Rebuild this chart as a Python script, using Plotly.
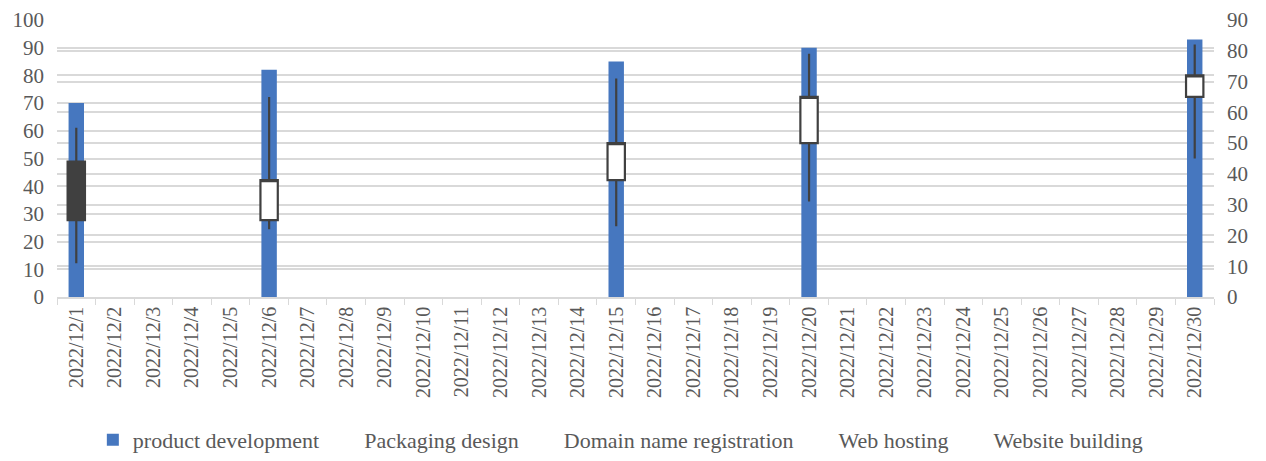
import plotly.graph_objects as go

dates = ["2022/12/1", "2022/12/2", "2022/12/3", "2022/12/4", "2022/12/5",
         "2022/12/6", "2022/12/7", "2022/12/8", "2022/12/9", "2022/12/10",
         "2022/12/11", "2022/12/12", "2022/12/13", "2022/12/14", "2022/12/15",
         "2022/12/16", "2022/12/17", "2022/12/18", "2022/12/19", "2022/12/20",
         "2022/12/21", "2022/12/22", "2022/12/23", "2022/12/24", "2022/12/25",
         "2022/12/26", "2022/12/27", "2022/12/28", "2022/12/29", "2022/12/30"]

data_dates = ["2022/12/1", "2022/12/6", "2022/12/15", "2022/12/20", "2022/12/30"]
product_development = [70, 82, 85, 90, 93]
packaging_design = [44, 25, 38, 50, 65]          # open
domain_name_registration = [55, 65, 71, 79, 82]  # high
web_hosting = [11, 22, 23, 31, 45]               # low
website_building = [25, 38, 50, 65, 72]          # close

FONT = "Liberation Serif, Times New Roman, DejaVu Serif, serif"
TXT = "#595959"
GRID = "#d9d9d9"
DARK = "#404040"

fig = go.Figure()

fig.add_trace(go.Bar(
    x=data_dates, y=product_development, name="product development",
    marker=dict(color="#4677BF", line=dict(width=0)), width=0.4,
))

fig.add_trace(go.Candlestick(
    x=data_dates, open=packaging_design, high=domain_name_registration,
    low=web_hosting, close=website_building,
    yaxis="y2", showlegend=False, whiskerwidth=0,
    increasing=dict(fillcolor="white", line=dict(color=DARK, width=2.2)),
    decreasing=dict(fillcolor=DARK, line=dict(color=DARK, width=2.2)),
))

for nm in ["Packaging design", "Domain name registration", "Web hosting", "Website building"]:
    fig.add_trace(go.Scatter(x=[None], y=[None], mode="lines", name=nm,
                             line=dict(color="rgba(0,0,0,0)", width=0), yaxis="y2"))

fig.update_layout(
    width=1266, height=461,
    margin=dict(l=57, r=52, t=20, b=164, autoexpand=False),
    paper_bgcolor="white", plot_bgcolor="white",
    font=dict(family=FONT, color=TXT, size=20),
    boxgap=0.55, boxgroupgap=0,
    xaxis=dict(
        type="category", categoryorder="array", categoryarray=dates,
        range=[-0.5, 29.5], tickmode="array", tickvals=dates, ticktext=dates,
        tickangle=-90, tickfont=dict(size=20, family=FONT, color=TXT),
        showline=True, linecolor=GRID, linewidth=1.5,
        ticks="outside", tickson="boundaries", ticklen=6, tickcolor=GRID,
        showgrid=False, rangeslider=dict(visible=False), automargin=False,
    ),
    yaxis=dict(
        range=[0, 100], dtick=10, showgrid=True, gridcolor=GRID, gridwidth=1.8,
        zeroline=False, tickfont=dict(size=21, family=FONT, color=TXT),
        showline=False, automargin=False, ticklabelstandoff=12,
    ),
    yaxis2=dict(
        range=[0, 90], dtick=10, overlaying="y", side="right",
        showgrid=True, gridcolor=GRID, gridwidth=1.8, zeroline=False,
        tickfont=dict(size=21, family=FONT, color=TXT), automargin=False,
        ticklabelstandoff=12,
    ),
    legend=dict(orientation="h", x=0.49, xanchor="center", xref="container",
                y=0, yanchor="bottom", yref="container",
                font=dict(size=22, family=FONT, color=TXT), itemwidth=30),
    showlegend=True,
)

fig.write_html("out.html", post_script="document.body.style.margin='0';",
               config={"displayModeBar": False})
